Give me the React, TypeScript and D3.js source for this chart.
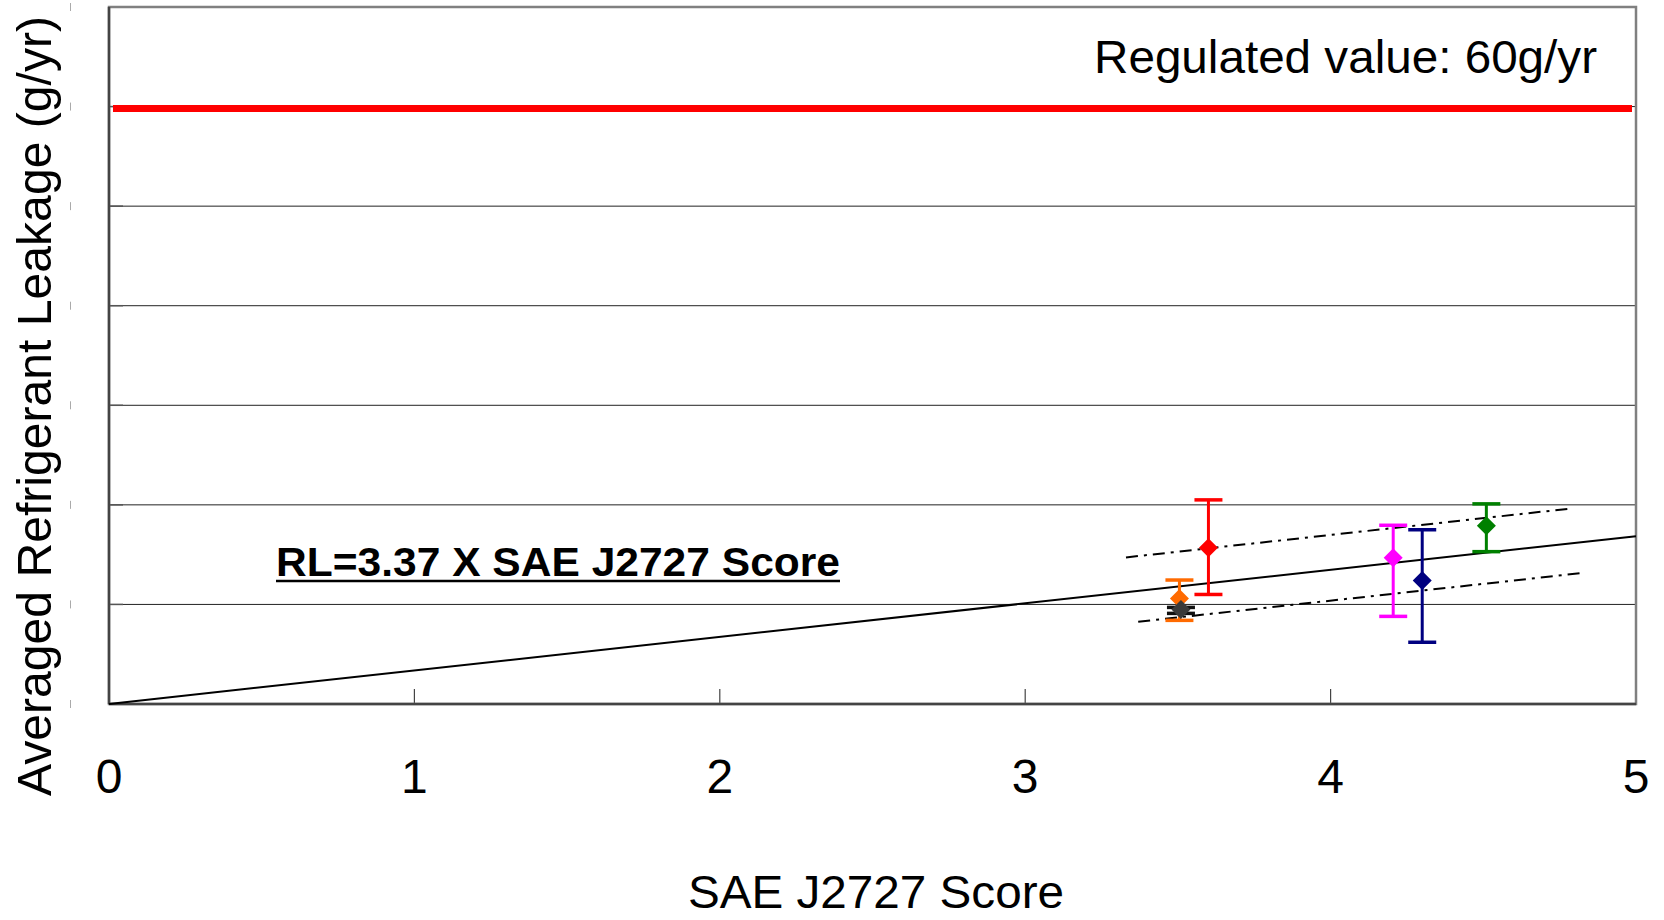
import React from "react";
import * as d3 from "d3";

const xTicks = [0, 1, 2, 3, 4, 5];
const yTicks = [0, 10, 20, 30, 40, 50, 60, 70];
const regulatedValue = 60;
const slope = 3.37;

const pointNames = ["A", "B", "C", "D", "E", "F"];
const pointScores = [3.6, 3.505, 3.51, 4.205, 4.3, 4.51];
const pointValues = [15.7, 10.6, 9.5, 14.7, 12.4, 17.9];
const pointLow = [11.0, 8.4, 9.1, 8.8, 6.2, 15.3];
const pointHigh = [20.5, 12.45, 9.7, 17.95, 17.5, 20.1];
const pointColors = ["#ff0000", "#ff6a00", "#3a3a3a", "#ff00ff", "#000080", "#008000"];
const capColors = ["#ff0000", "#ff6a00", "#111111", "#ff00ff", "#000080", "#008000"];

const upperBandX = [3.33, 4.79];
const upperBandOffset = 3.5;
const lowerBandX = [3.37, 4.82];
const lowerBandOffset = -3.1;

export default function App() {
  const W = 1664;
  const H = 920;
  const left = 109, right = 1636, top = 7, bottom = 704;
  const x = d3.scaleLinear().domain([0, 5]).range([left, right]);
  const y = d3.scaleLinear().domain([0, 70]).range([bottom, top]);
  const line = d3
    .line<[number, number]>()
    .x((d) => x(d[0]))
    .y((d) => y(d[1]));

  const trend = line([
    [0, 0],
    [5, slope * 5],
  ]) as string;
  const upper = line(upperBandX.map((v) => [v, slope * v + upperBandOffset] as [number, number])) as string;
  const lower = line(lowerBandX.map((v) => [v, slope * v + lowerBandOffset] as [number, number])) as string;

  const font = "'Liberation Sans', Arial, sans-serif";
  const dm = 9.5;
  const capW = 14;

  return (
    <svg
      width={W}
      height={H}
      style={{ position: "absolute", left: 0, top: 0, background: "#fff" }}
      fontFamily={font}
    >
      <rect x={0} y={0} width={W} height={H} fill="#fff" />
      {yTicks.slice(1, -1).map((t) => (
        <line key={"g" + t} x1={left} x2={right} y1={y(t)} y2={y(t)} stroke="#222" strokeWidth={1} />
      ))}
      {yTicks.map((t) => (
        <line key={"yt" + t} x1={left} x2={left + 14} y1={y(t)} y2={y(t)} stroke="#555" strokeWidth={1.5} />
      ))}
      {yTicks.map((t) => (
        <line key={"ym" + t} x1={70.5} x2={70.5} y1={y(t) - 4} y2={y(t) + 4} stroke="#aaa" strokeWidth={1} />
      ))}
      {xTicks.map((t) => (
        <line key={"xt" + t} x1={x(t)} x2={x(t)} y1={bottom} y2={bottom - 15} stroke="#444" strokeWidth={1.2} />
      ))}
      <rect x={left} y={top} width={right - left} height={bottom - top} fill="none" stroke="#808080" strokeWidth={2.5} />
      <line x1={left} x2={left} y1={top} y2={bottom} stroke="#444" strokeWidth={2.5} />
      <line x1={left} x2={right} y1={bottom} y2={bottom} stroke="#444" strokeWidth={2.5} />

      <path d={trend} stroke="#000" strokeWidth={2} fill="none" />
      <path d={upper} stroke="#000" strokeWidth={2} fill="none" strokeDasharray="12,6,3,6" />
      <path d={lower} stroke="#000" strokeWidth={2} fill="none" strokeDasharray="12,6,3,6" />

      {pointNames.map((n, i) => {
        const cx = x(pointScores[i]);
        const cy = y(pointValues[i]);
        const yl = y(pointLow[i]);
        const yh = y(pointHigh[i]);
        const c = pointColors[i];
        const cc = capColors[i];
        return (
          <g key={n}>
            <line x1={cx} x2={cx} y1={yh} y2={yl} stroke={cc} strokeWidth={3} />
            <line x1={cx - capW} x2={cx + capW} y1={yh} y2={yh} stroke={cc} strokeWidth={3.5} />
            <line x1={cx - capW} x2={cx + capW} y1={yl} y2={yl} stroke={cc} strokeWidth={3.5} />
            <path
              d={`M${cx},${cy - dm}L${cx + dm},${cy}L${cx},${cy + dm}L${cx - dm},${cy}Z`}
              fill={c}
            />
          </g>
        );
      })}

      <line
        x1={left + 4}
        x2={right - 4}
        y1={y(regulatedValue) + 2}
        y2={y(regulatedValue) + 2}
        stroke="#ff0000"
        strokeWidth={7}
      />

      <text x={1597} y={73} textAnchor="end" fontSize={47} fill="#000" textLength={503} lengthAdjust="spacingAndGlyphs">
        Regulated value: 60g/yr
      </text>
      <text x={276} y={576} fontSize={41} fontWeight="bold" fill="#000" textLength={564} lengthAdjust="spacingAndGlyphs">
        RL=3.37 X SAE J2727 Score
      </text>
      <line x1={276} x2={840} y1={581} y2={581} stroke="#000" strokeWidth={2.5} />

      {xTicks.map((t) => (
        <text key={"xl" + t} x={x(t)} y={793} textAnchor="middle" fontSize={48} fill="#000">
          {t}
        </text>
      ))}
      <text x={876} y={908} textAnchor="middle" fontSize={47} fill="#000" textLength={376} lengthAdjust="spacingAndGlyphs">
        SAE J2727 Score
      </text>
      <text
        transform={`translate(51, 406) rotate(-90)`}
        textAnchor="middle"
        fontSize={48}
        fill="#000"
        textLength={780}
        lengthAdjust="spacingAndGlyphs"
      >
        Averaged Refrigerant Leakage (g/yr)
      </text>
    </svg>
  );
}
